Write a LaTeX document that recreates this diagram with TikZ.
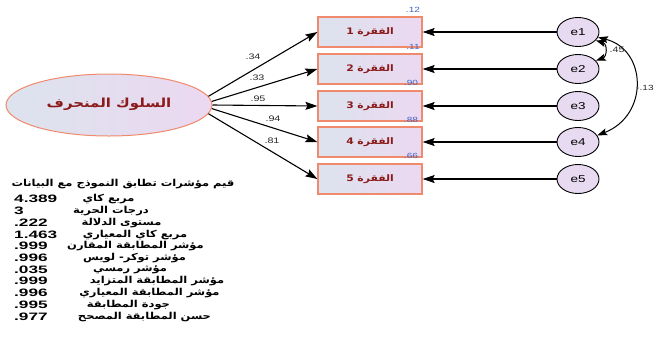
\documentclass[tikz,border=0pt]{standalone}
\usepackage{fontspec}
\setmainfont[FakeStretch=1.35]{Liberation Sans}
\newfontfamily\numfont[FakeStretch=1.6]{Liberation Sans}
\newfontfamily\arfont[Script=Arabic,FakeStretch=1.2]{DejaVu Sans}
\TeXXeTstate=1
\usetikzlibrary{arrows.meta,shapes.geometric}
\definecolor{boxborder}{HTML}{F08A6C}
\definecolor{boxleft}{HTML}{DCE3EE}
\definecolor{boxright}{HTML}{ECD8F1}
\definecolor{errfill}{HTML}{E7DAF1}
\definecolor{darkred}{HTML}{8B1A1A}
\definecolor{rsq}{HTML}{4262C4}
\begin{document}
\begin{tikzpicture}[x=1bp,y=-1bp,
  arr/.style={draw=black,line width=1.1bp,-{Stealth[length=12bp,width=8bp,inset=2bp]}},
  arrtwo/.style={draw=black,line width=1bp,{Stealth[length=10bp,width=7bp,inset=2bp]}-{Stealth[length=10bp,width=7bp,inset=2bp]}},
  latent/.style={ellipse,draw=boxborder,line width=1bp,left color=boxleft,right color=boxright,minimum width=206bp,minimum height=62bp,inner sep=0pt},
  itembox/.style={rectangle,draw=boxborder,line width=1.2bp,left color=boxleft,right color=boxright,minimum width=104bp,minimum height=30bp,inner sep=0pt,font=\arfont\bfseries\fontsize{9}{10}\selectfont,text=darkred},
  errc/.style={ellipse,draw=black,line width=0.9bp,fill=errfill,minimum width=42bp,minimum height=29bp,inner sep=0pt,font=\fontsize{10}{11}\selectfont},
  coef/.style={inner sep=0pt,font=\fontsize{8}{9}\selectfont,text=black!85},
  rlab/.style={inner sep=0pt,font=\fontsize{7.5}{8}\selectfont,text=rsq},
  num/.style={inner sep=0pt,anchor=west,font=\numfont\bfseries\fontsize{10.8}{11}\selectfont},
  arl/.style={inner sep=0pt,font=\arfont\bfseries\fontsize{9.6}{11}\selectfont}
]
\useasboundingbox (0,0) rectangle (654,358);
% latent
\node[latent] (F) at (109,105) {};
\node[inner sep=0pt,font=\arfont\bfseries\fontsize{12.5}{14}\selectfont,text=darkred] (Ft) at (109,104) {\beginR السلوك المنحرف\endR};
% items
\node[itembox] (b1) at (370,32) {\beginR الفقرة 1\endR};
\node[itembox] (b2) at (370,69) {\beginR الفقرة 2\endR};
\node[itembox] (b3) at (370,106) {\beginR الفقرة 3\endR};
\node[itembox] (b4) at (370,142) {\beginR الفقرة 4\endR};
\node[itembox] (b5) at (370,179) {\beginR الفقرة 5\endR};
% errors
\node[errc] (e1) at (578,32) {e1};
\node[errc] (e2) at (578,69) {e2};
\node[errc] (e3) at (578,106) {e3};
\node[errc] (e4) at (578,142) {e4};
\node[errc] (e5) at (578,179) {e5};
% loadings
\draw[arr] (F.5) -- (b1.west);
\draw[arr] (F.2.5) -- (b2.west);
\draw[arr] (F.0) -- (b3.west);
\draw[arr] (F.-2.5) -- (b4.west);
\draw[arr] (F.-5) -- (b5.west);
\node[coef] (l1) at (253,57) {.34};
\node[coef] (l2) at (257,78) {.33};
\node[coef] (l3) at (258,99) {.95};
\node[coef] (l4) at (273,119) {.94};
\node[coef] (l5) at (272,141) {.81};
% error arrows
\foreach \i in {1,...,5}{\draw[arr] (e\i) -- (b\i);}
% covariances
\draw[arrtwo] (e1.-25) .. controls +(12,4) and +(11,-4) .. (e2.25);
\draw[arrtwo] (e1.-15) .. controls +(49,12) and +(52,-20) .. (e4.19);
\node[coef] (c12) at (617,50) {.45};
\node[coef,anchor=east,font=\fontsize{7.5}{8}\selectfont] (c14) at (653.8,88) {-.13};
% R squared
\node[rlab] (r1) at (413,10) {.12};
\node[rlab] (r2) at (413,47) {.11};
\node[rlab] (r3) at (411,83) {.90};
\node[rlab] (r4) at (411,120) {.88};
\node[rlab] (r5) at (411,156) {.66};
% fit indices
\node[arl] (title) at (123,184) {\beginR قيم مؤشرات تطابق النموذج مع البيانات\endR};
\node[num] (n1) at (14,199) {4.389};
\node[num] (n2) at (14,211) {3};
\node[num] (n3) at (14,223) {.222};
\node[num] (n4) at (14,235) {1.463};
\node[num] (n5) at (14,246) {.999};
\node[num] (n6) at (14,258) {.996};
\node[num] (n7) at (14,270) {.035};
\node[num] (n8) at (14,281) {.999};
\node[num] (n9) at (14,293) {.996};
\node[num] (n10) at (14,305) {.995};
\node[num] (n11) at (14,317) {.977};
\node[arl] (a1) at (108.5,199) {\beginR مربع كاي\endR};
\node[arl] (a2) at (111,211) {\beginR درجات الحرية\endR};
\node[arl] (a3) at (121.5,223) {\beginR مستوى الدلالة\endR};
\node[arl] (a4) at (135,235) {\beginR مربع كاي المعياري\endR};
\node[arl] (a5) at (135.5,246) {\beginR مؤشر المطابقة المقارن\endR};
\node[arl] (a6) at (134.5,258) {\beginR مؤشر توكر- لويس\endR};
\node[arl] (a7) at (130,270) {\beginR مؤشر رمسي\endR};
\node[arl] (a8) at (157,281) {\beginR مؤشر المطابقة المتزايد\endR};
\node[arl] (a9) at (149.5,293) {\beginR مؤشر المطابقة المعياري\endR};
\node[arl] (a10) at (128.5,305) {\beginR جودة المطابقة\endR};
\node[arl] (a11) at (144.5,317) {\beginR حسن المطابقة المصحح\endR};
\end{tikzpicture}
\end{document}
